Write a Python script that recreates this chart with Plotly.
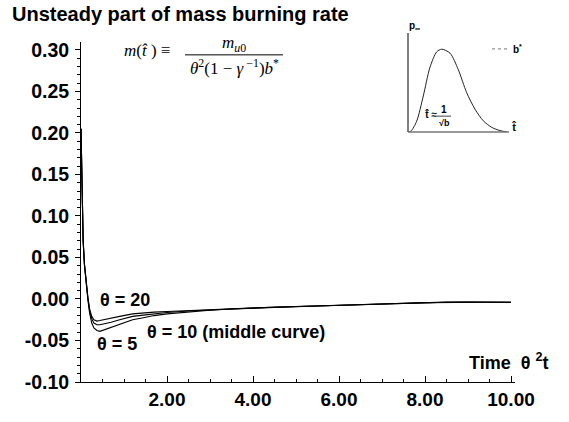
import plotly.graph_objects as go

# ---------------- data ----------------
time_vals = [0, 0.02, 0.05, 0.08, 0.12, 0.16, 0.2, 0.25, 0.3, 0.37, 0.44, 0.55, 0.7, 0.9,
             1.2, 1.45, 1.7, 2.0, 2.5, 3.0, 3.5, 4.0, 4.5, 5.0, 5.5, 6.0, 6.5, 7.0, 7.5,
             8.0, 8.5, 9.0, 9.5, 10.0]
theta20 = [0.205, 0.13, 0.070, 0.042, 0.020, 0.002, -0.012, -0.021, -0.025, -0.0266, -0.026,
           -0.025, -0.023, -0.021, -0.018, -0.0167, -0.0158, -0.015, -0.0138, -0.0127, -0.0117,
           -0.0107, -0.0098, -0.009, -0.0082, -0.0072, -0.0064, -0.0058, -0.005, -0.0042,
           -0.0038, -0.0036, -0.0038, -0.004]
theta10 = [0.205, 0.13, 0.070, 0.042, 0.020, 0.001, -0.014, -0.024, -0.029, -0.031, -0.031,
           -0.030, -0.028, -0.025, -0.021, -0.0194, -0.0178, -0.0163, -0.0145, -0.013, -0.0119,
           -0.0108, -0.0099, -0.0091, -0.0083, -0.0073, -0.0065, -0.0058, -0.005, -0.0043,
           -0.0039, -0.0037, -0.0038, -0.004]
theta5 = [0.205, 0.13, 0.070, 0.041, 0.018, -0.001, -0.017, -0.029, -0.035, -0.038, -0.039,
          -0.037, -0.034, -0.030, -0.025, -0.0226, -0.020, -0.018, -0.0155, -0.0135, -0.0121,
          -0.0109, -0.0100, -0.0092, -0.0084, -0.0074, -0.0066, -0.0059, -0.0051, -0.0044,
          -0.0040, -0.0038, -0.0039, -0.0041]

x_tickvals = [2, 4, 6, 8, 10]
x_ticktext = ["2.00", "4.00", "6.00", "8.00", "10.00"]
y_tickvals = [-0.10, -0.05, 0.00, 0.05, 0.10, 0.15, 0.20, 0.25, 0.30]
y_ticktext = ["-0.10", "-0.05", "0.00", "0.05", "0.10", "0.15", "0.20", "0.25", "0.30"]

# inset schematic pulse (normalised units)
inset_t = [0, 0.03, 0.087, 0.153, 0.22, 0.287, 0.337, 0.42, 0.503, 0.587, 0.67, 0.753, 0.837, 0.92, 0.99]
inset_p = [0, 0.01, 0.12, 0.40, 0.72, 0.89, 0.92, 0.876, 0.692, 0.436, 0.253, 0.124, 0.051, 0.015, 0.0]

# ---------------- layout helpers ----------------
W, H = 569, 422
L, R, T, B = 81, 54, 42, 36
PW, PH = W - L - R, H - T - B


def px(x, y):
    return (x - L) / PW, (H - B - y) / PH


SANS = "Liberation Sans, Arial, sans-serif"
SERIF = "Liberation Serif, Times New Roman, serif"

fig = go.Figure()
for ys in (theta5, theta10, theta20):
    fig.add_trace(go.Scatter(x=time_vals, y=ys, mode="lines",
                             line=dict(color="black", width=1.1), showlegend=False,
                             hoverinfo="skip"))

fig.add_trace(go.Scatter(x=inset_t, y=inset_p, xaxis="x2", yaxis="y2", mode="lines",
                         line=dict(color="#222", width=1, shape="spline", smoothing=0.8),
                         showlegend=False, hoverinfo="skip"))

ix0, iy0 = px(408, 133)
ix1, _ = px(508, 133)

fig.update_layout(
    width=W, height=H,
    margin=dict(l=L, r=R, t=T, b=B),
    paper_bgcolor="white", plot_bgcolor="white",
    title=dict(text="Unsteady part of mass burning rate", x=12 / W, xanchor="left",
               xref="container", y=1 - 14 / H, yanchor="middle", yref="container",
               font=dict(family=SANS, size=20, color="black", weight="bold")),
    xaxis=dict(range=[0, 10.093], showline=True, linecolor="black", linewidth=1,
               ticks="inside", ticklen=6, tickcolor="black", tickvals=x_tickvals,
               ticktext=x_ticktext, showgrid=False, zeroline=False,
               tickfont=dict(family=SANS, size=19, color="black", weight="bold"),
               minor=dict(ticks="inside", ticklen=3, dtick=0.5, tick0=0, tickcolor="black",
                          showgrid=False)),
    yaxis=dict(range=[-0.1, 0.3095], showline=True, linecolor="black", linewidth=1,
               ticks="outside", ticklen=5, tickcolor="black", tickvals=y_tickvals,
               ticktext=y_ticktext, showgrid=False, zeroline=False, ticklabelstandoff=2,
               tickfont=dict(family=SANS, size=19.5, color="black", weight="bold"),
               minor=dict(ticks="outside", ticklen=3, dtick=0.01, tick0=0, tickcolor="black",
                          showgrid=False)),
    xaxis2=dict(domain=[ix0, ix1], range=[0, 1], visible=False, anchor="y2"),
    yaxis2=dict(domain=[iy0, 1.0], range=[0, 1], visible=False, anchor="x2"),
)

shapes = []
# inset axes
a, b_ = px(408, 33)
c, d = px(408, 133)
shapes.append(dict(type="line", xref="paper", yref="paper", x0=a, y0=b_, x1=c, y1=d,
                   line=dict(color="#555", width=1.5)))
a, b_ = px(408, 133)
c, d = px(509, 133)
shapes.append(dict(type="line", xref="paper", yref="paper", x0=a, y0=b_, x1=c, y1=d,
                   line=dict(color="#777", width=1.5)))
# b* dotted line
a, b_ = px(492, 49)
c, d = px(510, 49)
shapes.append(dict(type="line", xref="paper", yref="paper", x0=a, y0=b_, x1=c, y1=d,
                   line=dict(color="#777", width=1, dash="dot")))
# fraction line main formula
a, b_ = px(185, 55)
c, d = px(283, 55)
shapes.append(dict(type="line", xref="paper", yref="paper", x0=a, y0=b_, x1=c, y1=d,
                   line=dict(color="black", width=1)))
# fraction line in inset label
a, b_ = px(437, 117)
c, d = px(451, 117)
shapes.append(dict(type="line", xref="paper", yref="paper", x0=a, y0=b_, x1=c, y1=d,
                   line=dict(color="#444", width=1)))
fig.update_layout(shapes=shapes)


def note(text, x, y, size, family=SANS, weight="bold", xanchor="center", color="black"):
    xp, yp = px(x, y)
    fig.add_annotation(text=text, x=xp, y=yp, xref="paper", yref="paper", showarrow=False,
                       xanchor=xanchor, yanchor="middle",
                       font=dict(family=family, size=size, color=color, weight=weight))


note("θ = 20", 125, 303, 18)
note("θ = 10 (middle curve)", 145, 335, 18, xanchor="left")
note("θ = 5", 117, 348, 18)
note("Time  θ <sup>2</sup>t", 467, 365, 18, xanchor="left")

note("<i>m</i>(<i>t̂</i> ) ≡", 147, 51, 17, family=SERIF, weight="normal")
note("<i>m</i><sub><i>u</i>0</sub>", 234, 44, 17, family=SERIF, weight="normal")
note("<i>θ</i><sup>2</sup>(1 − <i>γ</i><sup> −1</sup>)<i>b</i><sup>*</sup>", 234, 67, 17,
     family=SERIF, weight="normal")

note("p<sub>∞</sub>", 414, 26, 10)
note("b<sup>*</sup>", 517, 49, 10)
note("t̂ ≈", 431, 115, 10, xanchor="center")
note("1", 444, 110, 10)
note("√b", 444, 124, 9)
note("t̂", 514, 128, 11)

fig.write_html("out.html")
